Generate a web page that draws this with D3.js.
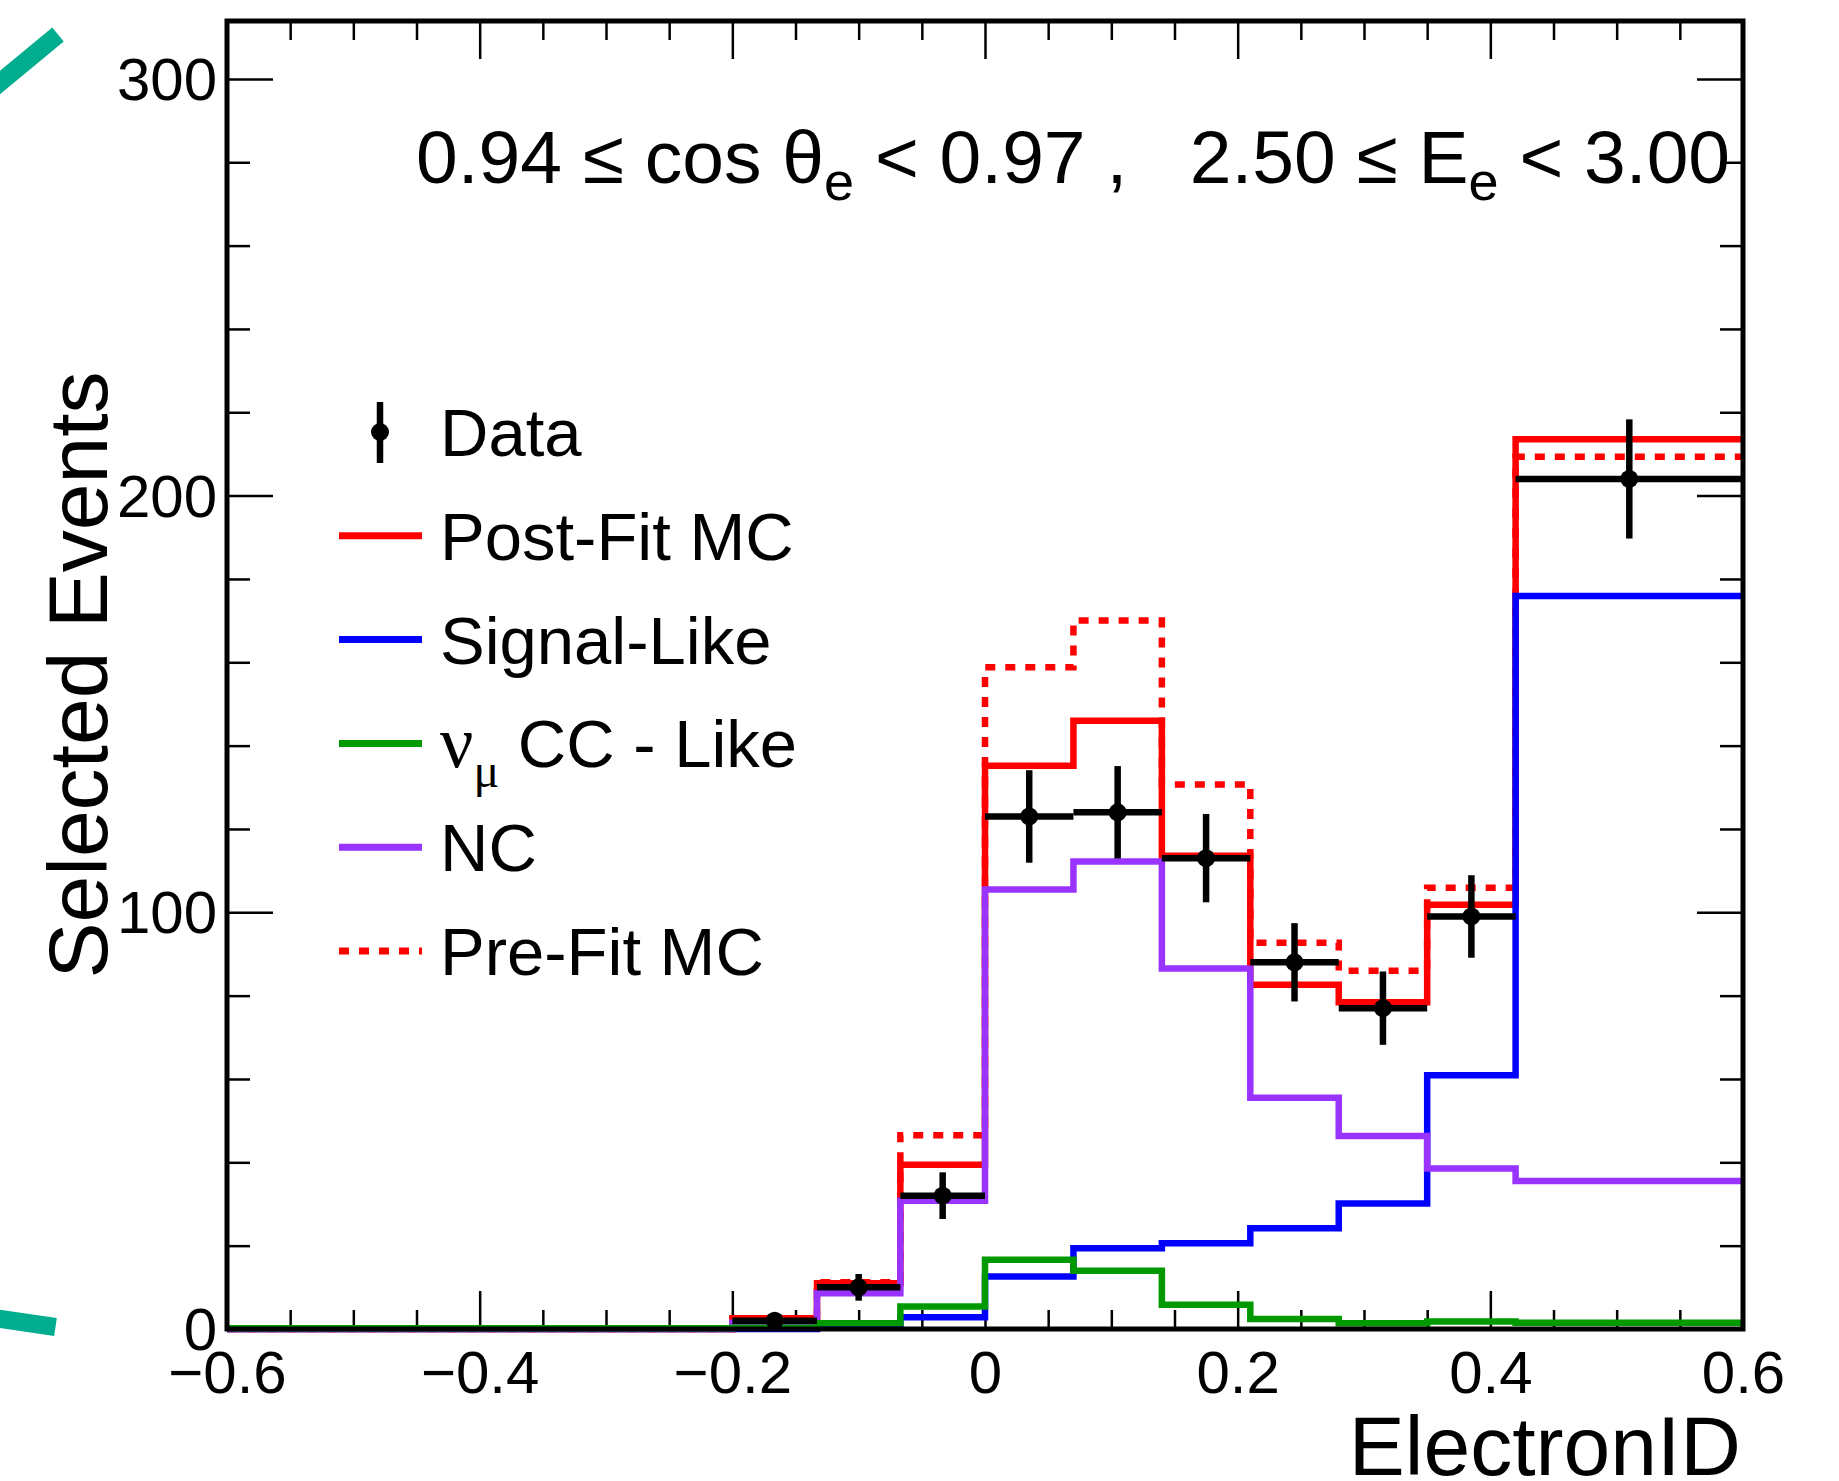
<!DOCTYPE html>
<html>
<head>
<meta charset="utf-8">
<script src="https://cdn.jsdelivr.net/npm/d3@7"></script>
<style>
  body { margin: 0; background: #fff; }
  svg text { font-family: "Liberation Sans", Arial, Helvetica, sans-serif; fill: #000; }
</style>
</head>
<body>
<svg id="chart"></svg>
<script>
// bin edges along ElectronID
const binEdges = [-0.6, -0.2, -0.133, -0.067, 0, 0.07, 0.14, 0.21, 0.28, 0.35, 0.42, 0.6];

// per-bin contents (first bin is the empty -0.6 .. -0.2 range)
const dataCounts = [null, 2, 10, 32, 123, 124, 113, 88, 77, 99, 204];
const dataErrors = [null, 1.4, 3.2, 5.6, 11.1, 11.1, 10.6, 9.4, 8.8, 9.9, 14.3];

const postFitMC = [0, 2.6, 11, 39.4, 135.2, 146, 113.6, 82.6, 78.4, 101.8, 213.5];
const preFitMC = [0, 2.6, 11.2, 46.5, 158.8, 170, 130.7, 92.7, 86, 105.9, 209.3];
const signalLike = [0, 0, 0.3, 2.8, 12.6, 19.4, 20.6, 24.2, 30.1, 60.9, 175.9];
const numuCCLike = [0.2, 0.3, 1.4, 5.4, 16.6, 14, 5.8, 2.4, 1.4, 1.8, 1.5];
const ncLike = [0, 1.5, 8.6, 30.8, 105.5, 112.2, 86.5, 55.5, 46.3, 38.5, 35.5];

const xMajorTicks = [-0.6, -0.4, -0.2, 0, 0.2, 0.4, 0.6];
const xMinorTicks = [-0.55, -0.5, -0.45, -0.35, -0.3, -0.25, -0.15, -0.1, -0.05,
                     0.05, 0.1, 0.15, 0.25, 0.3, 0.35, 0.45, 0.5, 0.55];
const yMajorTicks = [0, 100, 200, 300];
const yMinorTicks = [20, 40, 60, 80, 120, 140, 160, 180, 220, 240, 260, 280];

const legendLabels = ['Data', 'Post-Fit MC', 'Signal-Like', 'numu', 'NC', 'Pre-Fit MC'];

const colorMap = {
  post: '#ff0000',
  pre: '#ff0000',
  signal: '#0000ff',
  numu: '#009900',
  nc: '#9933ff',
  data: '#000000'
};

let width = 1839,
    height = 1481;

let frame = { left: 227, right: 1743, top: 21, bottom: 1329 };

let svg = d3.select('#chart')
  .attr('width', width)
  .attr('height', height);

let x = d3.scaleLinear()
  .domain([-0.6, 0.6])
  .range([frame.left, frame.right]);

let y = d3.scaleLinear()
  .domain([0, 313.9])
  .range([frame.bottom, frame.top]);

// decorative teal strokes cut off at the left edge
svg.append('line')
  .attr('x1', -6).attr('y1', 87.5).attr('x2', 58).attr('y2', 34.5)
  .attr('stroke', '#00ad8f').attr('stroke-width', 18);
svg.append('line')
  .attr('x1', -6).attr('y1', 1318).attr('x2', 55.5).attr('y2', 1327)
  .attr('stroke', '#00ad8f').attr('stroke-width', 18);

// AXES
function styleAxis(g) {
  g.select('.domain').remove();
  g.selectAll('.tick line')
    .attr('stroke', '#000')
    .attr('stroke-width', 2.5);
}

let xLabelFormat = (d) => d === 0 ? '0' : d3.format('.1f')(d);

// bottom
svg.append('g')
  .attr('transform', `translate(0, ${frame.bottom})`)
  .call(d3.axisBottom(x).tickValues(xMinorTicks).tickSize(-19).tickFormat(''))
  .call(styleAxis);

let xAxisGroup = svg.append('g')
  .attr('transform', `translate(0, ${frame.bottom})`)
  .call(d3.axisBottom(x).tickValues(xMajorTicks).tickSize(-38).tickFormat(xLabelFormat))
  .call(styleAxis);

xAxisGroup.selectAll('text')
  .attr('y', 64)
  .attr('dy', 0)
  .style('font-size', '60px')
  .style('font-family', '"Liberation Sans", Arial, sans-serif');

// top
svg.append('g')
  .attr('transform', `translate(0, ${frame.top})`)
  .call(d3.axisTop(x).tickValues(xMinorTicks).tickSize(-19).tickFormat(''))
  .call(styleAxis);
svg.append('g')
  .attr('transform', `translate(0, ${frame.top})`)
  .call(d3.axisTop(x).tickValues(xMajorTicks).tickSize(-38).tickFormat(''))
  .call(styleAxis);

// left
svg.append('g')
  .attr('transform', `translate(${frame.left}, 0)`)
  .call(d3.axisLeft(y).tickValues(yMinorTicks).tickSize(-23).tickFormat(''))
  .call(styleAxis);

let yAxisGroup = svg.append('g')
  .attr('transform', `translate(${frame.left}, 0)`)
  .call(d3.axisLeft(y).tickValues(yMajorTicks).tickSize(-46).tickPadding(10).tickFormat(d3.format('d')))
  .call(styleAxis);

yAxisGroup.selectAll('text')
  .attr('dy', '0.34em')
  .style('font-size', '60px')
  .style('font-family', '"Liberation Sans", Arial, sans-serif');

// right
svg.append('g')
  .attr('transform', `translate(${frame.right}, 0)`)
  .call(d3.axisRight(y).tickValues(yMinorTicks).tickSize(-23).tickFormat(''))
  .call(styleAxis);
svg.append('g')
  .attr('transform', `translate(${frame.right}, 0)`)
  .call(d3.axisRight(y).tickValues(yMajorTicks).tickSize(-46).tickFormat(''))
  .call(styleAxis);


// HISTOGRAMS
let stepLine = d3.line()
  .x((d) => x(d[0]))
  .y((d) => y(d[1]))
  .curve(d3.curveStepAfter);

function histPoints(values) {
  let pts = values.map((v, i) => [binEdges[i], v]);
  pts.push([binEdges[binEdges.length - 1], values[values.length - 1]]);
  return pts;
}

let histGroup = svg.append('g')
  .attr('class', 'histograms')
  .attr('fill', 'none');

// Pre-fit (dotted)
histGroup.append('path')
  .datum(histPoints(preFitMC))
  .attr('stroke', colorMap.pre)
  .attr('stroke-width', 6.5)
  .attr('stroke-dasharray', '10,10')
  .attr('d', stepLine);

// Post-fit
histGroup.append('path')
  .datum(histPoints(postFitMC))
  .attr('stroke', colorMap.post)
  .attr('stroke-width', 6.5)
  .attr('d', stepLine);

// Signal-like
histGroup.append('path')
  .datum(histPoints(signalLike))
  .attr('stroke', colorMap.signal)
  .attr('stroke-width', 6.5)
  .attr('d', stepLine);

// NC
histGroup.append('path')
  .datum(histPoints(ncLike))
  .attr('stroke', colorMap.nc)
  .attr('stroke-width', 6.5)
  .attr('d', stepLine);

// numu CC-like
histGroup.append('path')
  .datum(histPoints(numuCCLike))
  .attr('stroke', colorMap.numu)
  .attr('stroke-width', 6.5)
  .attr('d', stepLine);


// DATA POINTS
let points = dataCounts
  .map((v, i) => ({ lo: binEdges[i], hi: binEdges[i + 1], value: v, err: dataErrors[i] }))
  .filter((d) => d.value !== null);

let dataGroup = svg.append('g')
  .attr('class', 'data-points');

let point = dataGroup.selectAll('g')
  .data(points)
  .enter().append('g');

point.append('line')
  .attr('x1', (d) => x(d.lo))
  .attr('x2', (d) => x(d.hi))
  .attr('y1', (d) => y(d.value))
  .attr('y2', (d) => y(d.value))
  .attr('stroke', colorMap.data)
  .attr('stroke-width', 6.5);

point.append('line')
  .attr('x1', (d) => x((d.lo + d.hi) / 2))
  .attr('x2', (d) => x((d.lo + d.hi) / 2))
  .attr('y1', (d) => y(d.value - d.err))
  .attr('y2', (d) => y(d.value + d.err))
  .attr('stroke', colorMap.data)
  .attr('stroke-width', 6.5);

point.append('circle')
  .attr('cx', (d) => x((d.lo + d.hi) / 2))
  .attr('cy', (d) => y(d.value))
  .attr('r', 9)
  .attr('fill', colorMap.data);


// FRAME
svg.append('rect')
  .attr('x', frame.left)
  .attr('y', frame.top)
  .attr('width', frame.right - frame.left)
  .attr('height', frame.bottom - frame.top)
  .attr('fill', 'none')
  .attr('stroke', '#000')
  .attr('stroke-width', 5);


// AXIS TITLES
svg.append('text')
  .attr('x', 1741)
  .attr('y', 1475)
  .attr('text-anchor', 'end')
  .style('font-size', '84px')
  .text('ElectronID');

svg.append('text')
  .attr('transform', 'translate(107, 675) rotate(-90)')
  .attr('text-anchor', 'middle')
  .style('font-size', '84px')
  .text('Selected Events');


// ANNOTATION
let note = svg.append('text')
  .attr('x', 416)
  .attr('y', 183)
  .style('white-space', 'pre')
  .style('font-size', '75px');

note.append('tspan').text('0.94 \u2264 cos \u03b8');
note.append('tspan').attr('dy', 17).style('font-size', '54px').text('e');
note.append('tspan').attr('dy', -17).text(' < 0.97 ,   2.50 \u2264 E');
note.append('tspan').attr('dy', 17).style('font-size', '54px').text('e');
note.append('tspan').attr('dy', -17).text(' < 3.00');


// LEGEND
let legend = svg.append('g')
  .attr('class', 'legend');

let legendY = (i) => 432 + i * 103.8;
let sampleX1 = 339, sampleX2 = 422, textX = 440;

// Data entry
legend.append('line')
  .attr('x1', 380).attr('x2', 380)
  .attr('y1', legendY(0) - 30).attr('y2', legendY(0) + 31)
  .attr('stroke', colorMap.data).attr('stroke-width', 6.5);
legend.append('circle')
  .attr('cx', 380).attr('cy', legendY(0)).attr('r', 9)
  .attr('fill', colorMap.data);

let legendLines = [
  { i: 1, color: colorMap.post, dash: null },
  { i: 2, color: colorMap.signal, dash: null },
  { i: 3, color: colorMap.numu, dash: null },
  { i: 4, color: colorMap.nc, dash: null },
  { i: 5, color: colorMap.pre, dash: '10,10' }
];

legend.selectAll('.sample')
  .data(legendLines)
  .enter().append('line')
  .attr('class', 'sample')
  .attr('x1', sampleX1).attr('x2', sampleX2)
  .attr('y1', (d) => legendY(d.i)).attr('y2', (d) => legendY(d.i))
  .attr('stroke', (d) => d.color)
  .attr('stroke-width', 7)
  .attr('stroke-dasharray', (d) => d.dash);

legendLabels.forEach((label, i) => {
  let t = legend.append('text')
    .attr('x', textX)
    .attr('y', legendY(i) + 24)
    .style('font-size', '67px');
  if (label === 'numu') {
    t.append('tspan').style('font-family', '"Liberation Serif", "DejaVu Serif", serif').style('font-size', '74px').text('\u03bd');
    t.append('tspan').attr('dy', 20).style('font-size', '48px')
      .style('font-family', '"Liberation Serif", "DejaVu Serif", serif').text('\u03bc');
    t.append('tspan').attr('dy', -20).text(' CC - Like');
  } else {
    t.text(label);
  }
});
</script>
</body>
</html>
